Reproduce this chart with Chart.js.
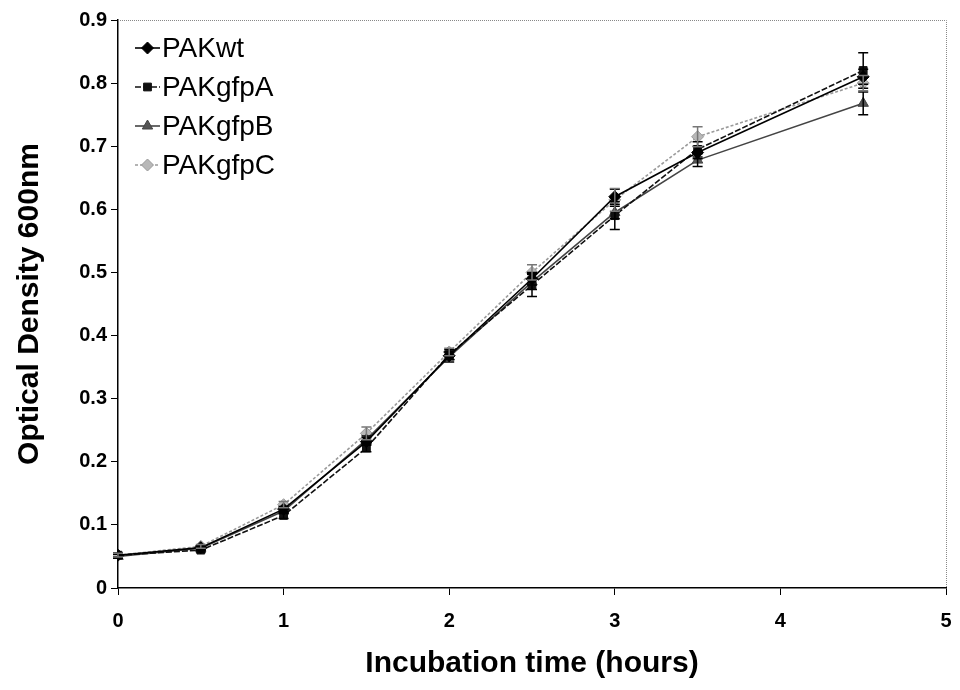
<!DOCTYPE html>
<html><head><meta charset="utf-8">
<script src="https://cdn.jsdelivr.net/npm/chart.js@4/dist/chart.umd.min.js"></script>
<style>html,body{margin:0;padding:0;background:#fff}#wrap{width:960px;height:690px}</style>
</head><body><div id="wrap"><canvas id="c" width="960" height="690"></canvas></div>
<script>
const times = [0, 0.5, 1, 1.5, 2, 2.5, 3, 3.5, 4.5];
const seriesNames = ["PAKwt", "PAKgfpA", "PAKgfpB", "PAKgfpC"];
const wtValues = [0.052, 0.064, 0.125, 0.232, 0.368, 0.490, 0.620, 0.690, 0.810];
const gfpAValues = [0.052, 0.060, 0.115, 0.222, 0.370, 0.480, 0.590, 0.695, 0.820];
const gfpBValues = [0.050, 0.063, 0.122, 0.235, 0.366, 0.485, 0.595, 0.678, 0.768];
const gfpCValues = [0.052, 0.066, 0.132, 0.245, 0.374, 0.500, 0.615, 0.715, 0.800];
const wtErr = [0.003, 0.003, 0.004, 0.006, 0.006, 0.010, 0.012, 0.010, 0.012];
const gfpAErr = [0.003, 0.003, 0.005, 0.006, 0.008, 0.018, 0.022, 0.012, 0.028];
const gfpBErr = [0.003, 0.003, 0.004, 0.006, 0.008, 0.012, 0.010, 0.010, 0.018];
const gfpCErr = [0.003, 0.003, 0.005, 0.010, 0.006, 0.012, 0.018, 0.016, 0.012];
const yTickLabels = ["0", "0.1", "0.2", "0.3", "0.4", "0.5", "0.6", "0.7", "0.8", "0.9"];
const xTickLabels = ["0", "1", "2", "3", "4", "5"];

const FONT = "'Liberation Sans', Arial, sans-serif";
const styles = [
  {color:'#000000', fill:'#000000', shape:'rectRot', r:6, dash:[]},
  {color:'#111111', fill:'#111111', shape:'rect', r:5.5, dash:[6,2]},
  {color:'#444444', fill:'#555555', shape:'triangle', r:6, dash:[]},
  {color:'#9a9a9a', fill:'#b8b8b8', shape:'rectRot', r:6, dash:[3,2]}
];
const vals = [wtValues, gfpAValues, gfpBValues, gfpCValues];
const errs = [wtErr, gfpAErr, gfpBErr, gfpCErr];

const datasets = vals.map((v, i) => ({
  label: seriesNames[i],
  data: times.map((t, j) => ({x: t, y: v[j]})),
  errors: errs[i],
  borderColor: styles[i].color,
  backgroundColor: styles[i].fill,
  borderWidth: 1.6,
  borderDash: styles[i].dash,
  pointStyle: styles[i].shape,
  pointRadius: styles[i].r,
  pointBorderColor: styles[i].color,
  pointBackgroundColor: styles[i].fill,
  pointBorderWidth: 1,
  tension: 0,
  fill: false
}));

const errorBars = {
  id: 'errorBars',
  afterDatasetsDraw(chart) {
    const ctx = chart.ctx, xs = chart.scales.x, ys = chart.scales.y;
    ctx.save();
    chart.data.datasets.forEach((ds) => {
      ctx.strokeStyle = ds.borderColor === '#9a9a9a' ? '#777' : '#000';
      ctx.lineWidth = 1.5;
      ds.data.forEach((p, j) => {
        const e = ds.errors[j];
        const px = xs.getPixelForValue(p.x);
        const y1 = ys.getPixelForValue(p.y + e), y2 = ys.getPixelForValue(p.y - e);
        ctx.beginPath();
        ctx.moveTo(px, y1); ctx.lineTo(px, y2);
        ctx.moveTo(px - 5, y1); ctx.lineTo(px + 5, y1);
        ctx.moveTo(px - 5, y2); ctx.lineTo(px + 5, y2);
        ctx.stroke();
      });
    });
    ctx.restore();
  }
};

const frame = {
  id: 'frame',
  beforeDatasetsDraw(chart) {
    const {ctx, chartArea: a} = chart;
    ctx.save();
    ctx.strokeStyle = '#888';
    ctx.lineWidth = 1;
    ctx.setLineDash([1, 1]);
    ctx.beginPath();
    ctx.moveTo(a.left, a.top + 0.5); ctx.lineTo(a.right + 0.5, a.top + 0.5);
    ctx.lineTo(a.right + 0.5, a.bottom);
    ctx.stroke();
    ctx.restore();
  }
};

const insideLegend = {
  id: 'insideLegend',
  afterDraw(chart) {
    const {ctx, chartArea: a} = chart;
    ctx.save();
    chart.data.datasets.forEach((ds, i) => {
      const y = a.top + 28 + i * 39;
      const x0 = a.left + 17, x1 = a.left + 42;
      ctx.strokeStyle = ds.borderColor;
      ctx.lineWidth = 1.6;
      ctx.setLineDash(ds.borderDash);
      ctx.beginPath(); ctx.moveTo(x0, y); ctx.lineTo(x1, y); ctx.stroke();
      ctx.setLineDash([]);
      ctx.fillStyle = ds.pointBackgroundColor;
      ctx.strokeStyle = ds.pointBorderColor;
      ctx.lineWidth = 1;
      Chart.helpers.drawPoint(ctx, {pointStyle: ds.pointStyle, radius: ds.pointRadius, borderWidth: 1, rotation: 0}, (x0 + x1) / 2, y);
      ctx.fillStyle = '#000';
      ctx.font = '28px ' + FONT;
      ctx.textBaseline = 'middle';
      ctx.textAlign = 'left';
      ctx.fillText(ds.label, x1 + 2, y + 1);
    });
    ctx.restore();
  }
};

new Chart(document.getElementById('c'), {
  type: 'line',
  data: {datasets},
  plugins: [frame, errorBars, insideLegend],
  options: {
    responsive: false,
    animation: false,
    layout: {padding: {left: 0, right: 14, top: 20, bottom: 0}},
    plugins: {legend: {display: false}, tooltip: {enabled: false}},
    scales: {
      x: {
        type: 'linear', min: 0, max: 5,
        afterFit(s) { s.height = 102; s.paddingRight = 0; s.paddingLeft = 0; },
        border: {color: '#000', width: 1.5},
        grid: {drawOnChartArea: false, drawTicks: true, tickLength: 7, color: '#000'},
        ticks: {stepSize: 1, color: '#000', font: {family: FONT, size: 20, weight: 'bold'}, padding: 14,
          callback: (v) => xTickLabels[Math.round(v)]},
        title: {display: true, text: 'Incubation time (hours)', color: '#000',
          font: {family: FONT, size: 30, weight: 'bold'}, padding: {top: 0, bottom: 8}}
      },
      y: {
        type: 'linear', min: 0, max: 0.9,
        afterFit(s) { s.width = 118; },
        border: {color: '#000', width: 1.5},
        grid: {drawOnChartArea: false, drawTicks: true, tickLength: 7, color: '#000'},
        ticks: {stepSize: 0.1, color: '#000', font: {family: FONT, size: 20, weight: 'bold'}, padding: 4,
          callback: (v) => yTickLabels[Math.round(v * 10)]},
        title: {display: true, text: 'Optical Density 600nm', color: '#000',
          font: {family: FONT, size: 30, weight: 'bold'}, padding: {top: 12, bottom: 0}}
      }
    }
  }
});
</script></body></html>
